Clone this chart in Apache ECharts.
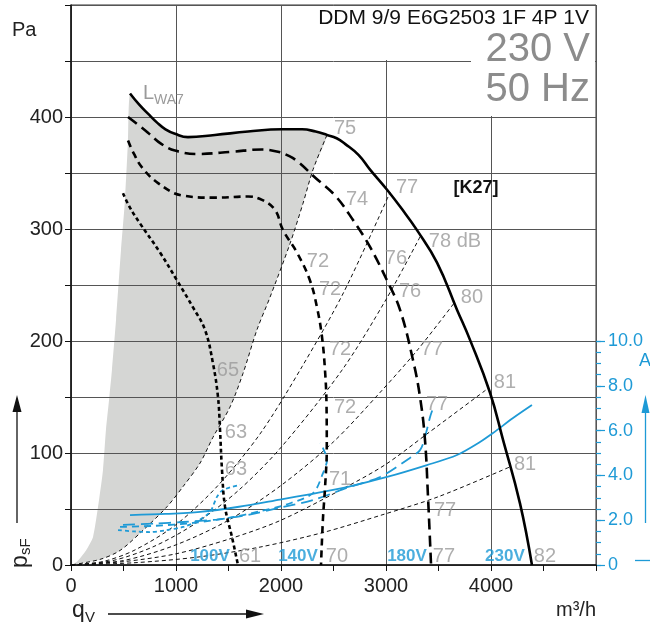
<!DOCTYPE html>
<html><head><meta charset="utf-8">
<script src="https://cdn.jsdelivr.net/npm/echarts@6/dist/echarts.min.js"></script>
<style>html,body{margin:0;padding:0;background:#fff}#c{width:650px;height:627px}</style>
</head><body><div id="c"></div>
<script>
// ---- data: [q (m³/h), p (Pa)] ----
const fan230 = [[562,421],[650,411],[733,403],[820,395],[900,389],[990,385],[1114,382],[1371,384],[1686,387],[2010,389],[2200,389],[2330,387],[2438,384],[2530,381],[2610,376],[2740,366],[2848,353],[3010,335],[3150,318],[3295,299],[3486,270],[3676,228],[3800,201],[3990,154],[4114,112],[4276,55],[4390,0]];
const fan180 = [[543,400],[640,393],[733,386],[860,376],[990,370],[1210,367],[1533,369],[1819,371],[1971,369],[2080,365],[2162,360],[2324,346],[2514,330],[2686,308],[2848,284],[3010,254],[3133,228],[3257,183],[3324,150],[3371,112],[3400,61],[3429,0]];
const fan140 = [[543,379],[600,367],[676,355],[829,341],[1057,330],[1371,328],[1686,329],[1819,326],[1943,317],[2019,299],[2152,279],[2276,254],[2343,230],[2390,204],[2419,174],[2433,145],[2436,105],[2420,70],[2400,42],[2381,0]];
const fan100 = [[495,332],[562,319],[657,305],[848,279],[1010,254],[1162,230],[1276,210],[1352,180],[1400,150],[1419,121],[1438,85],[1467,52],[1533,25],[1590,0]];
const grayLeft = [[0,0],[57,3],[143,13],[210,25],[267,58],[305,85],[333,121],[362,147],[390,174],[429,219],[476,281],[514,326],[543,379],[562,421]];
const grayRight = [[2438,384],[2305,353],[2210,323],[2086,287],[1895,239],[1771,210],[1638,171],[1514,141],[1352,114],[1229,91],[1067,70],[914,52],[686,31],[467,13],[276,5],[0,0]];
const sysA = [[0,0],[300,3],[600,13],[1000,36],[1400,71],[1800,117],[2200,177],[2600,244],[3040,333]];
const sysB = [[0,0],[400,4],[800,17],[1200,38],[1600,67],[2000,105],[2581,174],[3000,237],[3330,294]];
const sysC = [[0,0],[500,4],[1000,18],[1500,40],[2000,71],[2500,110],[2943,154],[3300,192],[3650,234]];
const sysD = [[0,0],[500,3],[1000,10],[1500,23],[2000,40],[2628,70],[3000,90],[3390,117],[3962,157]];
const sysE = [[0,0],[600,2],[1200,7],[1800,16],[2400,29],[2971,45],[3500,61],[4190,88]];
// current curves: [q (m³/h), I (A)]
const amp230 = [[562,2.23],[900,2.28],[1229,2.37],[1600,2.6],[1990,2.92],[2300,3.18],[2628,3.48],[3010,3.93],[3390,4.46],[3676,4.91],[3895,5.49],[4019,5.89],[4210,6.56],[4390,7.14]];
const amp180 = [[495,1.79],[800,1.85],[1067,1.92],[1390,2.03],[1700,2.25],[1990,2.56],[2305,2.9],[2628,3.44],[2943,3.93],[3200,4.69],[3324,5.13],[3371,5.71],[3419,6.6],[3440,6.9]];
const amp140 = [[467,1.70],[800,1.75],[1162,1.88],[1500,2.1],[1800,2.4],[2050,2.7],[2305,3.21],[2400,4.1],[2438,4.69],[2400,5.22],[2371,5.45]];
const amp100 = [[448,1.56],[600,1.50],[752,1.47],[900,1.55],[1067,1.70],[1200,1.95],[1324,2.37],[1390,3.04],[1448,3.35],[1610,3.57]];
// sound-power labels (dB) at [q, p]
const dbLabels = [[2610,390,'75'],[3200,337,'77'],[3657,289,'78 dB'],[3819,239,'80'],[4133,163,'81'],[4324,90,'81'],[4514,8,'82'],
  [2724,326,'74'],[3095,274,'76'],[3229,244,'76'],[3438,192,'77'],[3486,143,'77'],[3562,49,'77'],[3552,8,'77'],
  [2352,271,'72'],[2467,246,'72'],[2562,192,'72'],[2610,141,'72'],[2562,76,'71'],[2533,8,'70'],
  [1495,174,'65'],[1571,118,'63'],[1571,85,'63'],[1705,8,'61']];
const voltLabels = [[1324,8,'100V'],[2162,8,'140V'],[3200,8,'180V'],[4133,8,'230V']];
const xTicks = [0,1000,2000,3000,4000];
const yTicks = [0,100,200,300,400];
const ampTicks = [0,2,4,6,8,10];
const ampMinorTicks = [0,0.5,1,1.5,2,2.5,3,3.5,4,4.5,5,5.5,6,6.5,7,7.5,8,8.5,9,9.5,10];

const FONT = "'Liberation Sans', Arial, sans-serif";
const NARROW = "'Liberation Sans Narrow', 'Liberation Sans', Arial, sans-serif";
const BLUE = '#1e9ad6';
const GRAYTXT = '#9a9a9a';

const grayPoly = grayLeft.concat(fan230.filter(p => p[0] > 562 && p[0] < 2438), grayRight);

const chart = echarts.init(document.getElementById('c'), null, {renderer: 'canvas'});

function lineSeries(data, color, width, type, yIdx, z, sm) {
  return {type: 'line', data: data, yAxisIndex: yIdx || 0, showSymbol: false, smooth: sm || 0.3,
    lineStyle: {color: color, width: width, type: type}, z: z || 3, silent: true};
}

const option = {
  animation: false,
  grid: {left: 71, right: 54, top: 5, bottom: 62, show: true, borderColor: '#333', borderWidth: 1},
  xAxis: {
    type: 'value', min: 0, max: 5000, interval: 1000,
    axisLine: {lineStyle: {color: '#111', width: 1.5}},
    axisTick: {show: true, length: 6, lineStyle: {color: '#111'}},
    minorTick: {show: true, splitNumber: 2, length: 6, lineStyle: {color: '#111'}},
    axisLabel: {formatter: v => xTicks.includes(v) ? String(v) : '', fontSize: 20, color: '#222', margin: 11, fontFamily: FONT},
    splitLine: {show: true, lineStyle: {color: '#555', width: 1}}
  },
  yAxis: [
    {type: 'value', min: 0, max: 500, interval: 50,
      axisLine: {show: true, lineStyle: {color: '#111', width: 1.5}},
      axisTick: {show: true, length: 6, lineStyle: {color: '#111'}},
      axisLabel: {formatter: v => yTicks.includes(v) ? String(v) : '', fontSize: 20, color: '#222', margin: 8, fontFamily: FONT},
      splitLine: {show: true, lineStyle: {color: '#555', width: 1}}},
    {type: 'value', min: 0, max: 25, position: 'right',
      axisLine: {show: false}, splitLine: {show: false},
      axisTick: {show: true, customValues: ampTicks, length: 9, lineStyle: {color: BLUE, width: 1.2}},
      axisLabel: {customValues: ampTicks, formatter: v => v === 0 ? '0' : v.toFixed(1), fontSize: 18, color: BLUE, margin: 12, fontFamily: FONT}},
    {type: 'value', min: 0, max: 25, position: 'right',
      axisLine: {show: false}, splitLine: {show: false}, axisLabel: {show: false},
      axisTick: {show: true, customValues: ampMinorTicks, length: 5, lineStyle: {color: BLUE, width: 1.2}}}
  ],
  series: [
    {type: 'custom', z: -1, silent: true, data: [[0, 0]],
      renderItem: function (params, api) {
        const pts = grayPoly.map(p => api.coord(p));
        return {type: 'polygon', shape: {points: pts, smooth: 0.2}, style: {fill: '#d5d6d4', stroke: null}};
      }},
    lineSeries(grayRight, '#111', 1, [4, 3]),
    lineSeries(sysA, '#111', 1, [4, 3]),
    lineSeries(sysB, '#111', 1, [4, 3]),
    lineSeries(sysC, '#111', 1, [4, 3]),
    lineSeries(sysD, '#111', 1, [4, 3]),
    lineSeries(sysE, '#111', 1, [4, 3]),
    lineSeries(amp230, BLUE, 1.8, 'solid', 1, 4),
    lineSeries(amp180, BLUE, 1.8, [12, 6], 1, 4),
    lineSeries(amp140, BLUE, 1.8, [7, 5], 1, 4),
    lineSeries(amp100, BLUE, 1.8, [4, 3], 1, 4),
    lineSeries(fan230, '#000', 2.6, 'solid', 0, 5, 0.45),
    lineSeries(fan180, '#000', 2.6, [11, 6], 0, 5, 0.4),
    lineSeries(fan140, '#000', 2.6, [7, 5], 0, 5, 0.4),
    lineSeries(fan100, '#000', 2.6, [4, 3], 0, 5, 0.4),
    {type: 'scatter', symbolSize: 0, silent: true, z: 6,
      data: dbLabels.map(d => ({value: [d[0], d[1]], name: d[2]})),
      label: {show: true, position: 'inside', formatter: p => p.name, fontSize: 20, color: GRAYTXT, fontFamily: NARROW}},
    {type: 'scatter', symbolSize: 0, silent: true, z: 6,
      data: voltLabels.map(d => ({value: [d[0], d[1]], name: d[2]})),
      label: {show: true, position: 'inside', formatter: p => p.name, fontSize: 17, fontWeight: 'bold', color: BLUE, fontFamily: NARROW}}
  ],
  graphic: [
    {type: 'polygon', z: 50, silent: true,
      shape: {points: [[300, 6], [595, 6], [595, 116], [471, 116], [471, 60], [300, 60]]},
      style: {fill: '#fff', stroke: null}},
    {type: 'text', z: 51, x: 589, y: 18, style: {text: 'DDM 9/9 E6G2503 1F 4P 1V', font: '21px ' + FONT, fill: '#111', align: 'right', verticalAlign: 'middle'}},
    {type: 'text', z: 51, x: 590, y: 50, style: {text: '230 V', font: '40px ' + FONT, fill: '#8c8c8c', align: 'right', verticalAlign: 'middle'}},
    {type: 'text', z: 51, x: 590, y: 90, style: {text: '50 Hz', font: '40px ' + FONT, fill: '#8c8c8c', align: 'right', verticalAlign: 'middle'}},
    {type: 'text', z: 51, x: 476, y: 188, style: {text: '[K27]', font: 'bold 18px ' + NARROW, fill: '#111', align: 'center', verticalAlign: 'middle'}},
    {type: 'text', z: 51, x: 143, y: 93, style: {text: 'L', font: '20px ' + FONT, fill: GRAYTXT, align: 'left', verticalAlign: 'middle'}},
    {type: 'text', z: 51, x: 154, y: 100, style: {text: 'WA7', font: '14px ' + FONT, fill: GRAYTXT, align: 'left', verticalAlign: 'middle'}},
    {type: 'text', z: 51, x: 12, y: 30, style: {text: 'Pa', font: '20px ' + FONT, fill: '#222', align: 'left', verticalAlign: 'middle'}},
    {type: 'group', x: 21, y: 568, rotation: Math.PI / 2, children: [
      {type: 'text', style: {text: 'p', x: 0, y: 0, font: '23px ' + FONT, fill: '#222', align: 'left', verticalAlign: 'middle'}},
      {type: 'text', style: {text: 'sF', x: 13, y: 5, font: '15px ' + FONT, fill: '#222', align: 'left', verticalAlign: 'middle'}}
    ]},
    {type: 'line', shape: {x1: 17, y1: 523, x2: 17, y2: 405}, style: {stroke: '#111', lineWidth: 1.3}},
    {type: 'polygon', shape: {points: [[12.5, 412], [21.5, 412], [17, 395]]}, style: {fill: '#111'}},
    {type: 'text', x: 72, y: 611, style: {text: 'q', font: '23px ' + FONT, fill: '#222', align: 'left', verticalAlign: 'middle'}},
    {type: 'text', x: 85, y: 618, style: {text: 'V', font: '15px ' + FONT, fill: '#222', align: 'left', verticalAlign: 'middle'}},
    {type: 'line', shape: {x1: 108, y1: 614, x2: 252, y2: 614}, style: {stroke: '#111', lineWidth: 1.3}},
    {type: 'polygon', shape: {points: [[246, 609.5], [246, 618.5], [264, 614]]}, style: {fill: '#111'}},
    {type: 'text', x: 596, y: 610, style: {text: 'm³/h', font: '20px ' + FONT, fill: '#222', align: 'right', verticalAlign: 'middle'}},
    {type: 'text', x: 645, y: 361, style: {text: 'A', font: '18px ' + FONT, fill: BLUE, align: 'center', verticalAlign: 'middle'}},
    {type: 'line', shape: {x1: 645.5, y1: 523, x2: 645.5, y2: 408}, style: {stroke: BLUE, lineWidth: 1.3}},
    {type: 'polygon', shape: {points: [[641.5, 413], [649.5, 413], [645.5, 395]]}, style: {fill: BLUE}},
    {type: 'line', shape: {x1: 635, y1: 560.5, x2: 650, y2: 560.5}, style: {stroke: BLUE, lineWidth: 1.3}}
  ]
};
chart.setOption(option);
</script>
</body></html>
